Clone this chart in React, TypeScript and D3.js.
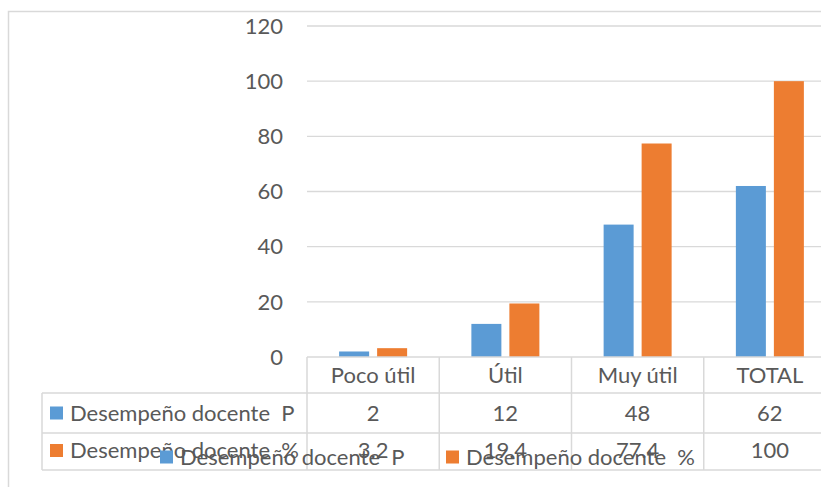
import React from "react";
import * as d3 from "d3";

const categories = ["Poco útil", "Útil", "Muy útil", "TOTAL"];
const seriesNames = ["Desempeño docente  P", "Desempeño docente  %"];
const seriesP = [2, 12, 48, 62];
const seriesPct = [3.2, 19.4, 77.4, 100];
const pctLabels = ["3.2", "19.4", "77.4", "100"];
const yTicks = [0, 20, 40, 60, 80, 100, 120];
const colors = ["#5B9BD5", "#ED7D31"];

const W = 821;
const H = 487;
const FONT = "Lato, 'Open Sans', sans-serif";
const FS = 22;
const TXT = "#595959";
const GRID = "#D9D9D9";

export default function App() {
  const y = d3.scaleLinear().domain([0, 120]).range([357, 26]);
  const x = d3.scaleBand().domain(categories).range([307, 836]);
  const bw = x.bandwidth();
  const x1 = d3
    .scaleBand()
    .domain(seriesNames)
    .range([(bw - 68) / 2, (bw + 68) / 2])
    .paddingInner(8 / 38);
  const series = [seriesP, seriesPct];
  const rowLabels = [seriesP.map(String), pctLabels];

  const hTop = 357, r1 = 393, r2 = 433, r3 = 470, tLeft = 42;
  const colEdges = categories.map((c) => x(c) as number).concat([836]);

  return (
    <svg width={W} height={H} style={{ position: "absolute", left: 0, top: 0, fontFamily: FONT, fontWeight: 400 }}>
      <rect x={0} y={0} width={W} height={H} fill="#fff" />
      <rect x={8.5} y={11.5} width={900} height={600} fill="none" stroke={GRID} strokeWidth={1.5} />
      {/* gridlines */}
      {yTicks.filter((t) => t > 0).map((t) => (
        <line key={t} x1={307} x2={836} y1={y(t)} y2={y(t)} stroke={GRID} strokeWidth={1.3} />
      ))}
      {/* y tick labels */}
      {yTicks.map((t) => (
        <text key={t} x={283} y={y(t)} dy="0.35em" textAnchor="end" fill={TXT} fontSize={FS}>
          {t}
        </text>
      ))}
      {/* bars */}
      {categories.map((c, i) => (
        <g key={c} transform={`translate(${x(c)},0)`}>
          {series.map((s, j) => (
            <rect
              key={j}
              x={x1(seriesNames[j]) as number}
              y={y(s[i])}
              width={x1.bandwidth()}
              height={y(0) - y(s[i])}
              fill={colors[j]}
            />
          ))}
        </g>
      ))}
      {/* data table lines */}
      <g stroke={GRID} strokeWidth={1.5} fill="none">
        <line x1={307} x2={836} y1={hTop} y2={hTop} />
        <line x1={tLeft} x2={836} y1={r1} y2={r1} />
        <line x1={tLeft} x2={836} y1={r2} y2={r2} />
        <line x1={tLeft} x2={836} y1={r3} y2={r3} />
        <line x1={tLeft} x2={tLeft} y1={r1} y2={r3} />
        {colEdges.map((e, i) => (
          <line key={i} x1={e} x2={e} y1={hTop} y2={r3} />
        ))}
      </g>
      {/* header */}
      {categories.map((c) => (
        <text key={c} x={(x(c) as number) + bw / 2} y={(hTop + r1) / 2} dy="0.35em" textAnchor="middle" fill={TXT} fontSize={FS}>
          {c}
        </text>
      ))}
      {/* rows */}
      {[0, 1].map((j) => {
        const cy = j === 0 ? (r1 + r2) / 2 : (r2 + r3) / 2 - 1;
        return (
          <g key={j}>
            <rect x={50} y={cy - 6.5} width={13} height={13} fill={colors[j]} />
            <text x={70} y={cy} dy="0.35em" fill={TXT} fontSize={FS} style={{ whiteSpace: "pre" }}>
              {seriesNames[j]}
            </text>
            {categories.map((c, i) => (
              <text key={c} x={(x(c) as number) + bw / 2} y={cy} dy="0.35em" textAnchor="middle" fill={TXT} fontSize={FS}>
                {rowLabels[j][i]}
              </text>
            ))}
          </g>
        );
      })}
      {/* legend */}
      {[0, 1].map((j) => {
        const lx = j === 0 ? 160 : 446;
        return (
          <g key={j}>
            <rect x={lx} y={450.5} width={13} height={13} fill={colors[j]} />
            <text x={lx + 20} y={457.5} dy="0.35em" fill={TXT} fontSize={FS} style={{ whiteSpace: "pre" }}>
              {seriesNames[j]}
            </text>
          </g>
        );
      })}
    </svg>
  );
}
